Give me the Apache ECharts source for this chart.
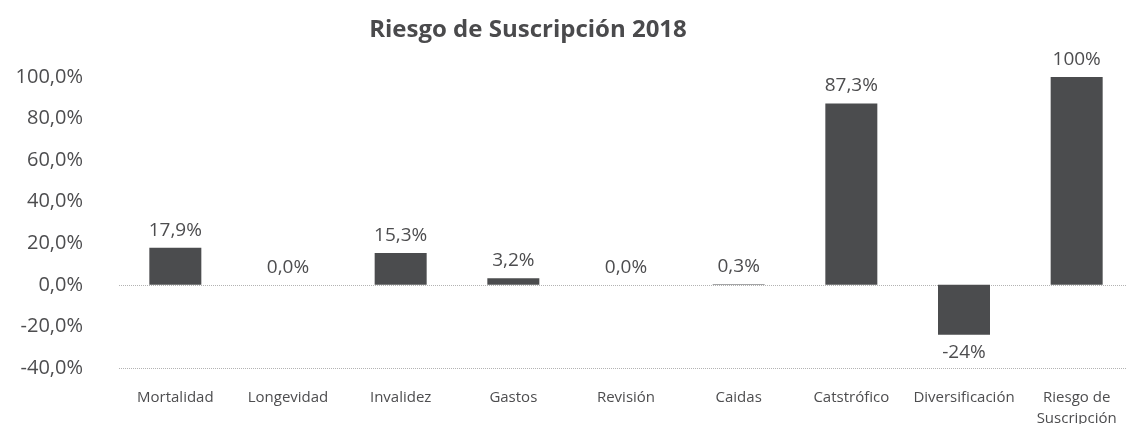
<!DOCTYPE html>
<html>
<head>
<meta charset="utf-8">
<script src="https://cdn.jsdelivr.net/npm/echarts@6/dist/echarts.min.js"></script>
<style>
  html, body { margin: 0; padding: 0; background: #ffffff; }
  #chart { width: 1126px; height: 424px; }
</style>
</head>
<body>
<div id="chart"></div>
<script>
// Underwriting risk components, percent of total
const categories = ['Mortalidad', 'Longevidad', 'Invalidez', 'Gastos', 'Revisión', 'Caidas', 'Catstrófico', 'Diversificación', 'Riesgo de Suscripción'];
const values = [17.9, 0.0, 15.3, 3.2, 0.0, 0.3, 87.3, -24, 100];
const valueLabels = ['17,9%', '0,0%', '15,3%', '3,2%', '0,0%', '0,3%', '87,3%', '-24%', '100%'];
const yTicks = [-40, -20, 0, 20, 40, 60, 80, 100];

const FONT = 'Open Sans';
const TEXT = '#4d4d4f';
const BAR = '#4b4c4e';
const DOT = '#b3b3b3';

const chart = echarts.init(document.getElementById('chart'), null, { renderer: 'canvas' });

// only the zero line and the bottom line are drawn
const splitColors = yTicks.map(t => (t === 0 || t === yTicks[0]) ? DOT : 'rgba(0,0,0,0)');

// negative bars carry their label underneath
const barData = values.map(v => ({
  value: v,
  label: { position: v < 0 ? 'bottom' : 'top' }
}));

chart.setOption({
  animation: false,
  backgroundColor: '#ffffff',
  title: {
    text: 'Riesgo de Suscripción 2018',
    left: 523,
    textAlign: 'center',
    top: 13,
    textStyle: { fontFamily: FONT, fontWeight: 'bold', fontSize: 24, color: '#4a4a4c' }
  },
  grid: { left: 119, right: -7, top: 77, bottom: 56, outerBoundsMode: 'none', containLabel: false },
  xAxis: {
    type: 'category',
    data: categories,
    axisLine: { show: false },
    axisTick: { show: false },
    axisLabel: {
      interval: 0,
      margin: 19,
      fontFamily: FONT,
      fontSize: 15,
      color: TEXT,
      lineHeight: 21,
      formatter: v => v.replace('Riesgo de ', 'Riesgo de\n')
    }
  },
  yAxis: {
    type: 'value',
    min: yTicks[0],
    max: yTicks[yTicks.length - 1],
    interval: 20,
    axisLine: { show: false },
    axisTick: { show: false },
    splitLine: { show: true, lineStyle: { color: splitColors, type: [1, 1], width: 1 } },
    axisLabel: {
      margin: 36,
      fontFamily: FONT,
      fontSize: 20,
      color: TEXT,
      formatter: v => v.toFixed(1).replace('.', ',') + '%'
    }
  },
  series: [{
    type: 'bar',
    data: barData,
    barWidth: 52,
    itemStyle: { color: BAR },
    label: {
      show: true,
      position: 'top',
      distance: 8,
      fontFamily: FONT,
      fontSize: 19,
      color: TEXT,
      formatter: p => valueLabels[p.dataIndex]
    }
  }]
});
</script>
</body>
</html>
